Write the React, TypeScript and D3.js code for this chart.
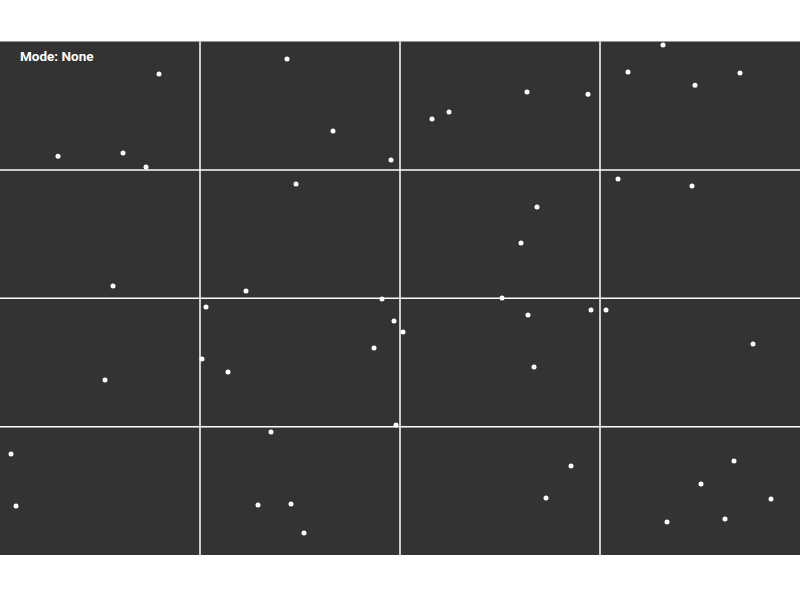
import React, { useRef, useEffect } from 'react';
import * as d3 from 'd3';

// grid cell index on each axis (4 x 4 cells)
const xTicks = [1, 2, 3];
const yTicks = [1, 2, 3];

// point positions in cell units, x from the left, y from the bottom
const pointX = [
  0.795, 0.29, 0.615, 0.73, 1.435, 1.665, 1.955, 2.16, 2.245, 2.635,
  2.94, 3.315, 3.14, 3.475, 3.7, 0.565, 1.48, 1.23, 2.685, 2.605,
  3.09, 3.46, 2.51, 0.525, 1.03, 1.91, 1.97, 1.87, 1.01, 1.14,
  1.98, 2.015, 2.64, 2.955, 3.03, 2.67, 3.765, 1.355, 1.29, 1.455,
  1.52, 0.055, 0.08, 2.855, 2.73, 3.67, 3.505, 3.855, 3.625, 3.335,
];
const pointY = [
  3.746, 3.107, 3.131, 3.022, 3.863, 3.302, 3.076, 3.396, 3.45, 3.606,
  3.59, 3.972, 3.762, 3.66, 3.754, 2.095, 2.889, 2.056, 2.71, 2.43,
  2.928, 2.874, 2.002, 1.363, 1.931, 1.994, 1.822, 1.612, 1.526, 1.425,
  1.012, 1.737, 1.869, 1.908, 1.908, 1.464, 1.643, 0.958, 0.389, 0.397,
  0.171, 0.787, 0.382, 0.693, 0.444, 0.732, 0.553, 0.436, 0.28, 0.257,
];

const modeLabel = 'Mode: None';

const App = () => {
  const svgRef = useRef<SVGSVGElement>(null);

  useEffect(() => {
    if (!svgRef.current) return;
    const width = 800;
    const height = 600;
    const top = 41.5;
    const bottom = 555;

    const svg = d3.select(svgRef.current);
    svg.selectAll('*').remove();
    svg.attr('width', width).attr('height', height);

    const x = d3.scaleLinear().domain([0, 4]).range([0, width]);
    const y = d3.scaleLinear().domain([0, 4]).range([bottom, top]);

    svg.append('rect')
      .attr('x', 0)
      .attr('y', top)
      .attr('width', width)
      .attr('height', bottom - top)
      .attr('fill', '#333333');

    // grid
    svg.append('g').selectAll('line').data(xTicks).enter().append('line')
      .attr('x1', d => x(d)).attr('x2', d => x(d))
      .attr('y1', top).attr('y2', bottom)
      .attr('stroke', '#ffffff').attr('stroke-width', 1.5);

    svg.append('g').selectAll('line').data(yTicks).enter().append('line')
      .attr('x1', 0).attr('x2', width)
      .attr('y1', d => y(d)).attr('y2', d => y(d))
      .attr('stroke', '#ffffff').attr('stroke-width', 1.5);

    // points
    svg.append('g').selectAll('circle').data(pointX.map((v, i) => [v, pointY[i]])).enter()
      .append('circle')
      .attr('cx', d => x(d[0]))
      .attr('cy', d => y(d[1]))
      .attr('r', 2.5)
      .attr('fill', '#ffffff');

    svg.append('text')
      .attr('x', 20)
      .attr('y', 61)
      .attr('font-family', 'Roboto, sans-serif')
      .attr('font-weight', 700)
      .attr('font-size', '13.5px')
      .attr('fill', '#ffffff')
      .text(modeLabel);
  }, []);

  return (
    <div style={{ position: 'absolute', left: 0, top: 0, width: 800, height: 600, background: '#ffffff' }}>
      <svg ref={svgRef} style={{ display: 'block' }} />
    </div>
  );
};

export default App;
